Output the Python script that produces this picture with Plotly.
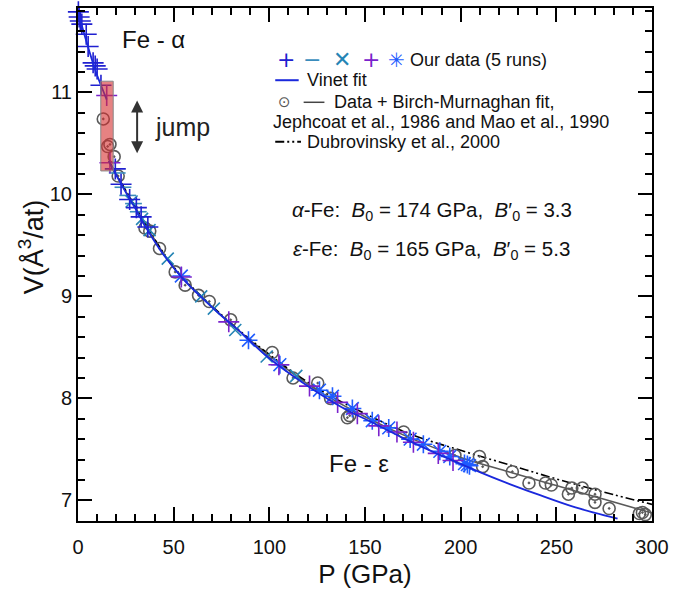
import plotly.graph_objects as go

# ---------------- data ----------------
# Our data, 5 runs
run1_p = [0.2, 0.6, 1.2, 2.0, 4.3, 5.3, 7.9, 9.0, 10.0, 12.0, 19.5, 22.5, 27.0, 30.5, 33.0, 36.5]
run1_v = [11.79, 11.74, 11.70, 11.67, 11.57, 11.45, 11.29, 11.26, 11.23, 11.07, 10.25, 10.10, 9.95, 9.87, 9.78, 9.68]

run2_p = [20.5, 23.5, 26.0, 29.0, 31.5]
run2_v = [10.21, 10.07, 9.99, 9.91, 9.83]

run3_p = [28.0, 33.5, 37.4, 46.9, 64.4, 71.0, 82.2, 98.6, 114.1]
run3_v = [9.93, 9.76, 9.65, 9.37, 9.00, 8.88, 8.67, 8.41, 8.22]

run4_p = [15.0, 16.7, 54.0, 78.8, 105.0, 121.0, 135.7, 146.0, 157.2, 166.7, 175.3, 188.3, 196.0]
run4_v = [10.97, 10.31, 9.19, 8.75, 8.33, 8.12, 7.96, 7.85, 7.73, 7.67, 7.57, 7.46, 7.39]

run5_p = [54.0, 89.1, 105.5, 126.2, 133.0, 143.4, 153.8, 162.4, 173.6, 180.5, 189.1, 194.3, 202.0, 203.5, 204.6]
run5_v = [9.20, 8.57, 8.33, 8.08, 8.02, 7.90, 7.78, 7.71, 7.60, 7.55, 7.48, 7.43, 7.36, 7.35, 7.34]

# Jephcoat et al. 1986 / Mao et al. 1990 data
lit_p = [13.2, 15.5, 16.7, 18.9, 21.0, 35.0, 37.5, 42.6, 50.8, 56.0, 63.0, 68.6, 79.8, 101.5, 112.4,
         125.3, 132.0, 140.8, 142.0, 170.2, 197.0, 209.8, 211.5, 227.0, 235.7, 244.3, 247.4, 256.3,
         258.1, 263.6, 270.2, 270.2, 277.6, 293.4, 295.0, 296.5]
lit_v = [10.74, 10.47, 10.49, 10.37, 10.18, 9.67, 9.64, 9.47, 9.24, 9.11, 9.01, 8.95, 8.77, 8.45, 8.20,
         8.15, 8.00, 7.81, 7.83, 7.67, 7.44, 7.43, 7.33, 7.28, 7.17, 7.17, 7.15, 7.06,
         7.12, 7.12, 7.06, 6.98, 6.92, 6.87, 6.88, 6.86]

# Vinet fit curves
vin_a_p = [0, 3, 6, 9, 12, 15]
vin_a_v = [11.80, 11.59, 11.40, 11.22, 11.07, 10.93]
vin_e_p = [16, 20, 25, 30, 36, 45, 55, 64, 75, 85, 97, 110, 125, 140, 152, 170, 185, 202, 220, 240, 260, 282]
vin_e_v = [10.33, 10.19, 10.02, 9.86, 9.66, 9.40, 9.17, 9.00, 8.81, 8.65, 8.44, 8.25, 8.06, 7.89, 7.78,
           7.61, 7.48, 7.34, 7.20, 7.06, 6.93, 6.82]

# Birch-Murnaghan fit (Jephcoat / Mao)
bm_p = [17, 30, 50, 75, 100, 125, 150, 175, 200, 225, 250, 275, 300]
bm_v = [10.29, 9.87, 9.28, 8.81, 8.42, 8.08, 7.82, 7.60, 7.42, 7.28, 7.145, 7.01, 6.875]

# Dubrovinsky et al. 2000
dub_p = [17, 30, 50, 75, 100, 125, 150, 175, 200, 225, 250, 275, 300]
dub_v = [10.30, 9.88, 9.29, 8.82, 8.43, 8.10, 7.85, 7.64, 7.49, 7.35, 7.21, 7.08, 6.96]

x_ticks = [0, 50, 100, 150, 200, 250, 300]
y_ticks = [7, 8, 9, 10, 11]

# ---------------- styles ----------------
FONT = "Liberation Sans, Arial, Helvetica, sans-serif"
C_RUN1 = "#2020d0"
C_RUN2 = "#3a8cbc"
C_RUN3 = "#2585b5"
C_RUN4 = "#7a22cc"
C_RUN5 = "#1f5cff"
C_VIN = "#1a28dc"
C_BM = "#5a5a5a"

fig = go.Figure()

fig.add_trace(go.Scatter(x=bm_p, y=bm_v, mode="lines", line=dict(color=C_BM, width=1.6, shape="spline"),
                         showlegend=False, hoverinfo="skip"))
fig.add_trace(go.Scatter(x=dub_p, y=dub_v, mode="lines",
                         line=dict(color="black", width=1.6, shape="spline", dash="9px,3px,2px,3px,2px,3px"),
                         showlegend=False, hoverinfo="skip"))
fig.add_trace(go.Scatter(x=lit_p, y=lit_v, mode="markers",
                         marker=dict(symbol="circle-open-dot", size=12, color=C_BM, line=dict(width=1.6, color=C_BM)),
                         showlegend=False, cliponaxis=False))

def run(px, vy, sym, col, size):
    fig.add_trace(go.Scatter(x=px, y=vy, mode="markers",
                             marker=dict(symbol=sym, size=size, color=col, line=dict(width=1.6, color=col)),
                             showlegend=False, cliponaxis=False))

run(run2_p, run2_v, "line-ew-open", C_RUN2, 12)
run(run3_p, run3_v, "x-thin-open", C_RUN3, 12)
run(run1_p, run1_v, "cross-thin-open", C_RUN1, 15)
run(run5_p, run5_v, "asterisk-open", C_RUN5, 15)
run(run4_p, run4_v, "cross-thin-open", C_RUN4, 15)

fig.add_trace(go.Scatter(x=vin_a_p, y=vin_a_v, mode="lines", line=dict(color=C_VIN, width=1.8, shape="spline"),
                         showlegend=False, hoverinfo="skip"))
fig.add_trace(go.Scatter(x=vin_e_p, y=vin_e_v, mode="lines", line=dict(color=C_VIN, width=1.8, shape="spline"),
                         showlegend=False, hoverinfo="skip"))

# jump box
fig.add_shape(type="rect", xref="x", yref="y", x0=11.9, x1=18.4, y0=10.23, y1=11.11,
              fillcolor="rgba(213,47,47,0.6)", line=dict(color="#888", width=1), layer="above")

annotations = []
# double arrow
annotations.append(dict(x=30.9, y=10.92, ax=30.9, ay=10.39, xref="x", yref="y", axref="x", ayref="y",
                        showarrow=True, arrowhead=2, arrowside="end+start", arrowsize=1.2,
                        arrowwidth=2, arrowcolor="#333", text=""))
annotations.append(dict(x=54.5, y=10.66, xref="x", yref="y", text="jump", showarrow=False,
                        font=dict(size=25, family=FONT, color="#222")))
annotations.append(dict(x=39.5, y=11.52, xref="x", yref="y", text="Fe - α", showarrow=False,
                        font=dict(size=24, family=FONT, color="#111")))
annotations.append(dict(x=147, y=7.36, xref="x", yref="y", text="Fe - ε", showarrow=False,
                        font=dict(size=24, family=FONT, color="#111")))
annotations.append(dict(x=184.8, y=9.84, xref="x", yref="y", showarrow=False,
                        text="<i>α</i>-Fe:  <i>B</i><sub>0</sub> = 174 GPa,  <i>B</i>′<sub>0</sub> = 3.3",
                        font=dict(size=20.5, family=FONT, color="#111")))
annotations.append(dict(x=184.8, y=9.45, xref="x", yref="y", showarrow=False,
                        text="<i>ε</i>-Fe:  <i>B</i><sub>0</sub> = 165 GPa,  <i>B</i>′<sub>0</sub> = 5.3",
                        font=dict(size=20.5, family=FONT, color="#111")))

# ---------- legend (built from text + shapes in paper space) ----------
def px2x(px):
    return (px - 77.7) / 580.0

def py2y(py):
    return (526.7 - py) / 520.7

LEG = 18
row_y = [58.3, 79.3, 101.7, 121.7, 141.7]
for sx, ch, col, fs in [(288.3, "+", C_RUN1, 22), (314, "−", C_RUN2, 22), (344, "✕", C_RUN3, 22),
                        (373.3, "+", C_RUN4, 22), (400, "✳", C_RUN5, 20)]:
    annotations.append(dict(x=px2x(sx), y=py2y(row_y[0]), xref="paper", yref="paper", text=ch,
                            showarrow=False, xanchor="center", yanchor="middle",
                            font=dict(size=fs, family="DejaVu Sans, " + FONT, color=col)))
annotations.append(dict(x=px2x(411), y=py2y(row_y[0]), xref="paper", yref="paper", text="Our data (5 runs)",
                        showarrow=False, xanchor="left", yanchor="middle", font=dict(size=LEG, family=FONT, color="#111")))
annotations.append(dict(x=px2x(307), y=py2y(row_y[1]), xref="paper", yref="paper", text="Vinet fit",
                        showarrow=False, xanchor="left", yanchor="middle", font=dict(size=LEG, family=FONT, color="#111")))
annotations.append(dict(x=px2x(286), y=py2y(row_y[2]), xref="paper", yref="paper", text="⊙",
                        showarrow=False, xanchor="center", yanchor="middle",
                        font=dict(size=15, family="DejaVu Sans, " + FONT, color="#555")))
annotations.append(dict(x=px2x(334), y=py2y(row_y[2]), xref="paper", yref="paper", text="Data + Birch-Murnaghan fit,",
                        showarrow=False, xanchor="left", yanchor="middle", font=dict(size=LEG, family=FONT, color="#111")))
annotations.append(dict(x=px2x(273), y=py2y(row_y[3]), xref="paper", yref="paper",
                        text="Jephcoat et al., 1986 and Mao et al., 1990",
                        showarrow=False, xanchor="left", yanchor="middle", font=dict(size=LEG, family=FONT, color="#111")))
annotations.append(dict(x=px2x(307), y=py2y(row_y[4]), xref="paper", yref="paper", text="Dubrovinsky et al., 2000",
                        showarrow=False, xanchor="left", yanchor="middle", font=dict(size=LEG, family=FONT, color="#111")))

# axis title (y) as rotated text
annotations.append(dict(x=px2x(31), y=py2y(248), xref="paper", yref="paper", text="V(Å<sup>3</sup>/at)",
                        textangle=-90, showarrow=False, xanchor="center", yanchor="middle",
                        font=dict(size=27, family=FONT, color="#111")))

shapes = [
    dict(type="line", xref="paper", yref="paper", x0=px2x(277), x1=px2x(300.7), y0=py2y(row_y[1]), y1=py2y(row_y[1]),
         line=dict(color=C_VIN, width=2)),
    dict(type="line", xref="paper", yref="paper", x0=px2x(305.7), x1=px2x(326.7), y0=py2y(row_y[2]), y1=py2y(row_y[2]),
         line=dict(color="#444", width=1.5)),
    dict(type="line", xref="paper", yref="paper", x0=px2x(277), x1=px2x(303), y0=py2y(row_y[4]), y1=py2y(row_y[4]),
         line=dict(color="black", width=2, dash="9px,3px,2px,3px,2px,3px")),
]
for s in shapes:
    fig.add_shape(**s)

axis_common = dict(showgrid=False, zeroline=False, showline=True, linecolor="black", linewidth=2,
                   mirror="ticks", ticks="inside", tickcolor="black", tickwidth=1.6, ticklen=14,
                   tickfont=dict(size=20, family=FONT, color="#111"))

fig.update_xaxes(range=[0, 300], tickvals=x_ticks, ticktext=[str(t) for t in x_ticks],
                 minor=dict(dtick=10, ticks="inside", ticklen=7, tickwidth=1.6, tickcolor="black"),
                 ticklabelstandoff=7,
                 title=dict(text="P (GPa)", font=dict(size=26, family=FONT, color="#111"), standoff=8),
                 **axis_common)
fig.update_yaxes(range=[6.797, 11.828], tickvals=y_ticks, ticktext=[str(t) for t in y_ticks],
                 minor=dict(dtick=0.2, tick0=7, ticks="inside", ticklen=7, tickwidth=1.6, tickcolor="black"),
                 **axis_common)

fig.update_layout(width=675, height=590, margin=dict(l=78, r=17, t=6, b=63),
                  paper_bgcolor="white", plot_bgcolor="white", showlegend=False,
                  annotations=annotations, font=dict(family=FONT))

fig.write_html("out.html", config={"displayModeBar": False},
               post_script="document.body.style.margin='0';document.body.style.overflow='hidden';")
